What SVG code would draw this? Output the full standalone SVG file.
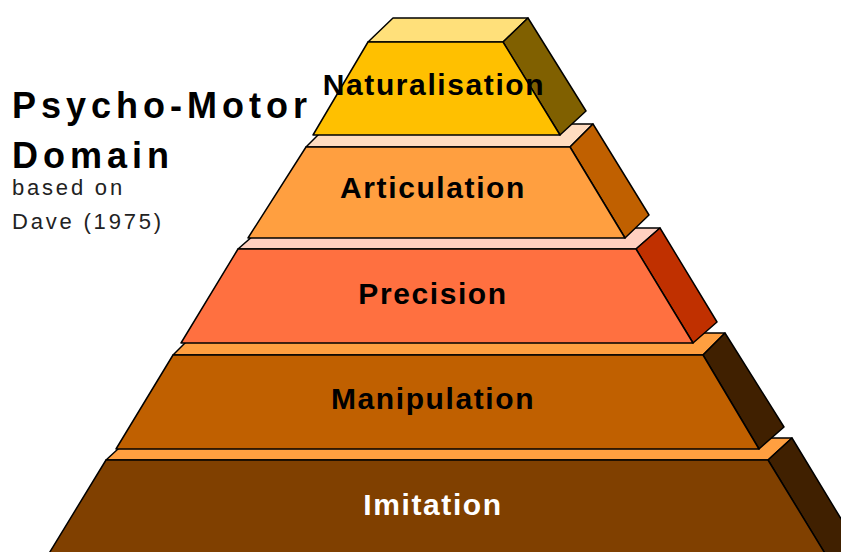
<svg xmlns="http://www.w3.org/2000/svg" width="841" height="552" viewBox="0 0 841 552">
  <style>
    .f { stroke: #000; stroke-width: 1.5; stroke-linejoin: round; }
    .lbl { font-family: "Liberation Sans", Arial, sans-serif; font-weight: bold; font-size: 30px; letter-spacing: 1.6px; text-anchor: middle; }
    .title { font-family: "Liberation Sans", Arial, sans-serif; font-weight: bold; font-size: 36px; letter-spacing: 5px; fill: #000; }
    .sub { font-family: "Liberation Sans", Arial, sans-serif; font-size: 22px; letter-spacing: 2.8px; fill: #222; }
  </style>
  <rect width="841" height="552" fill="#fff"/>

  <g id="title">
    <text class="title" x="12" y="118">Psycho-Motor</text>
    <text class="title" x="12" y="168">Domain</text>
    <text class="sub" x="12" y="195">based on</text>
    <text class="sub" x="12" y="229">Dave (1975)</text>
  </g>

  <g id="imitation">
    <polygon class="f" fill="#FF9F40" points="106,460 768,460 792,438 130,438"/>
    <polygon class="f" fill="#402000" points="768,460 792,438 866,560 829,560"/>
    <polygon class="f" fill="#804000" points="106,460 768,460 829,560 45,560"/>
    <text class="lbl" x="433" y="515" fill="#fff">Imitation</text>
  </g>

  <g id="manipulation">
    <polygon class="f" fill="#FF9F40" points="173,355 703,355 725,333 195,333"/>
    <polygon class="f" fill="#402000" points="703,355 725,333 784,427 759,449"/>
    <polygon class="f" fill="#C06000" points="173,355 703,355 759,449 116,449"/>
    <text class="lbl" x="433" y="409" fill="#000">Manipulation</text>
  </g>

  <g id="precision">
    <polygon class="f" fill="#FFD0C0" points="238,249 636,249 660,228 262,228"/>
    <polygon class="f" fill="#C03000" points="636,249 660,228 717,322 693,343"/>
    <polygon class="f" fill="#FF7040" points="238,249 636,249 693,343 181,343"/>
    <text class="lbl" x="433" y="304" fill="#000">Precision</text>
  </g>

  <g id="articulation">
    <polygon class="f" fill="#FFDCC0" points="306,147 570,147 593,124 329,124"/>
    <polygon class="f" fill="#C06000" points="570,147 593,124 649,215 625,238"/>
    <polygon class="f" fill="#FF9F40" points="306,147 570,147 625,238 248,238"/>
    <text class="lbl" x="433" y="198" fill="#000">Articulation</text>
  </g>

  <g id="naturalisation">
    <polygon class="f" fill="#FFE07A" points="368,42 503,42 528,18 393,18"/>
    <polygon class="f" fill="#806000" points="503,42 528,18 586,111 560,135"/>
    <polygon class="f" fill="#FFC000" points="368,42 503,42 560,135 313,135"/>
    <text class="lbl" x="434" y="95" fill="#000">Naturalisation</text>
  </g>

  <g id="connectors"/>
</svg>
